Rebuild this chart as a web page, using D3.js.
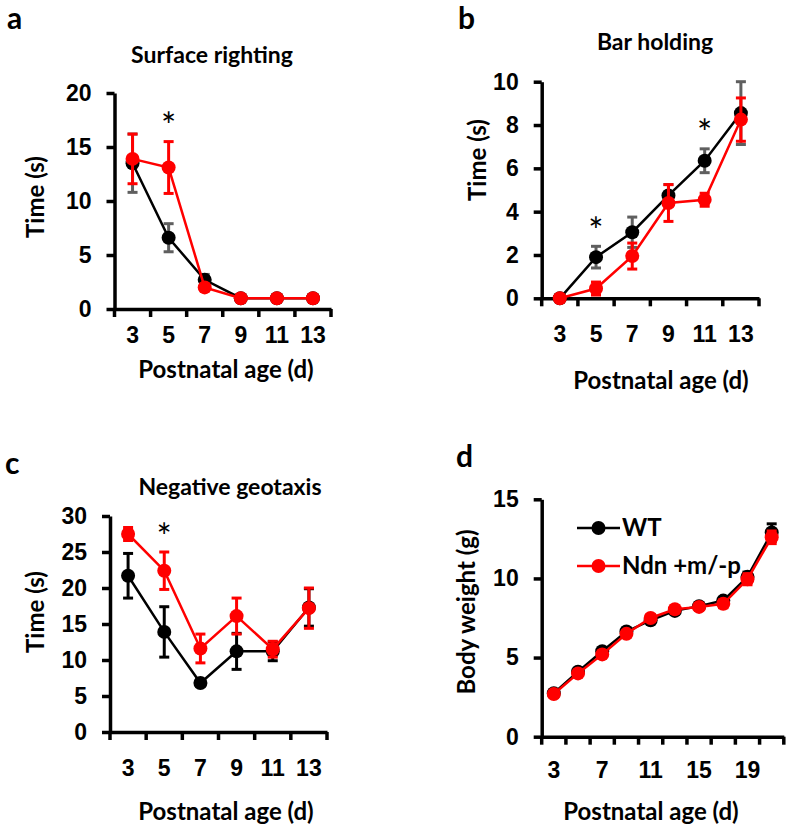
<!DOCTYPE html>
<html>
<head>
<meta charset="utf-8">
<script src="https://cdn.jsdelivr.net/npm/d3@7"></script>
<style>
  body { margin: 0; background: #fff; }
  svg { font-family: Lato, "Open Sans", sans-serif; font-weight: bold; }
</style>
</head>
<body>
<div id="vis"></div>
<script>
// Frame size
const FRAME_WIDTH = 787;
const FRAME_HEIGHT = 827;

// Data
const AGES_SHORT = [3, 5, 7, 9, 11, 13];
const AGES_LONG = [3, 5, 7, 9, 11, 13, 15, 17, 19, 21];

// a - surface righting
const SURF_WT = [13.5, 6.6, 2.7, 1.0, 1.0, 1.0];
const SURF_WT_ERR = [2.7, 1.3, 0.5, 0, 0, 0];
const SURF_NDN = [13.9, 13.1, 2.0, 1.0, 1.0, 1.0];
const SURF_NDN_ERR = [2.3, 2.4, 0.3, 0, 0, 0];
const SURF_TICKS = [0, 5, 10, 15, 20];

// b - bar holding
const BAR_WT = [0, 1.9, 3.05, 4.75, 6.35, 8.55];
const BAR_WT_ERR = [0, 0.5, 0.7, 0.5, 0.55, 1.45];
const BAR_NDN = [0, 0.45, 1.95, 4.4, 4.55, 8.25];
const BAR_NDN_ERR = [0, 0.3, 0.6, 0.85, 0.3, 1.0];
const BAR_TICKS = [0, 2, 4, 6, 8, 10];

// c - negative geotaxis
const GEO_WT = [21.7, 13.9, 6.8, 11.2, 11.2, 17.3];
const GEO_WT_ERR = [3.1, 3.5, 0.4, 2.5, 1.3, 2.6];
const GEO_NDN = [27.5, 22.4, 11.6, 16.1, 11.5, 17.2];
const GEO_NDN_ERR = [0.9, 2.6, 2.0, 2.5, 1.1, 2.8];
const GEO_TICKS = [0, 5, 10, 15, 20, 25, 30];

// d - body weight
const BW_WT = [2.75, 4.1, 5.4, 6.65, 7.35, 7.95, 8.25, 8.6, 10.1, 12.9];
const BW_WT_ERR = [0.1, 0.15, 0.15, 0.2, 0.15, 0.2, 0.2, 0.2, 0.3, 0.55];
const BW_NDN = [2.7, 4.0, 5.2, 6.5, 7.5, 8.05, 8.2, 8.4, 9.95, 12.6];
const BW_NDN_ERR = [0.1, 0.2, 0.2, 0.2, 0.2, 0.2, 0.2, 0.25, 0.35, 0.4];
const BW_TICKS = [0, 5, 10, 15];
const BW_LABELS = [3, 7, 11, 15, 19];

const LEGEND = ["WT", "Ndn +m/-p"];

const RED = "#ff0000";
const GREY = "#5f5f5f";
const TICK_FONT = "23px";
const TITLE_FONT = "23px";
const AXIS_TITLE_FONT = "24px";

const FRAME = d3.select("#vis")
  .append("svg")
    .attr("width", FRAME_WIDTH)
    .attr("height", FRAME_HEIGHT);

// Draws one panel: axes, error bars, lines, markers, labels
function panel(cfg) {
  const x = d3.scaleBand()
    .domain(cfg.ages)
    .range([cfg.left, cfg.right])
    .padding(0);
  const y = d3.scaleLinear()
    .domain([0, d3.max(cfg.yTicks)])
    .range([cfg.bottom, cfg.top]);
  const cx = (d) => x(d) + x.bandwidth() / 2;

  const G = FRAME.append("g");

  // panel letter and title
  G.append("text")
    .attr("x", cfg.letter[0]).attr("y", cfg.letter[1])
    .style("font-size", "30px")
    .text(cfg.letter[2]);
  if (cfg.title[2]) {
    G.append("text")
      .attr("x", cfg.title[0]).attr("y", cfg.title[1])
      .attr("text-anchor", "middle")
      .style("font-size", TITLE_FONT)
      .text(cfg.title[2]);
  }

  // axis titles
  G.append("text")
    .attr("x", cfg.xTitle[0]).attr("y", cfg.xTitle[1])
    .attr("text-anchor", "middle")
    .style("font-size", AXIS_TITLE_FONT)
    .text("Postnatal age (d)");
  G.append("text")
    .attr("transform", "translate(" + cfg.yTitle[0] + "," + cfg.yTitle[1] + ")rotate(-90)")
    .attr("text-anchor", "middle")
    .style("font-size", AXIS_TITLE_FONT)
    .text(cfg.yTitle[2]);

  // y axis
  const yAxis = G.append("g")
    .attr("transform", "translate(" + cfg.left + ",0)")
    .call(d3.axisLeft(y).tickValues(cfg.yTicks).tickSize(8).tickSizeOuter(0).tickPadding(15));
  yAxis.selectAll("text").style("font-size", TICK_FONT).attr("font-family", null).attr("fill", "#000");

  // x axis line with category boundary ticks
  const xAxis = G.append("g")
    .attr("transform", "translate(0," + cfg.bottom + ")")
    .call(d3.axisBottom(x).tickValues(cfg.xLabels || cfg.ages).tickSize(0).tickPadding(cfg.xPad).tickSizeOuter(0));
  xAxis.selectAll("text").style("font-size", TICK_FONT).attr("font-family", null).attr("fill", "#000");
  xAxis.selectAll(".tick").attr("transform", (d) => "translate(" + cx(d) + ",0)");
  xAxis.selectAll("line").remove();
  xAxis.selectAll("bound")
    .data(cfg.ages.concat(["end"]))
    .enter()
    .append("line")
      .attr("x1", (d) => d === "end" ? cfg.right : x(d))
      .attr("x2", (d) => d === "end" ? cfg.right : x(d))
      .attr("y1", 0).attr("y2", 8)
      .attr("stroke", "#000").attr("stroke-width", 3.5);

  [yAxis, xAxis].forEach((a) => {
    a.selectAll(".domain").attr("stroke", "#000").attr("stroke-width", 3.5);
    a.selectAll(".tick line").attr("stroke", "#000").attr("stroke-width", 3.5);
  });

  // series
  cfg.series.forEach((s) => {
    const pts = cfg.ages.map((a, i) => ({age: a, v: s.values[i], e: s.errs[i]}));
    const EB = G.append("g").attr("stroke", s.errColor).attr("stroke-width", 3);
    const withErr = pts.filter((p) => p.e > 0);
    EB.selectAll("v").data(withErr).enter().append("line")
      .attr("x1", (p) => cx(p.age)).attr("x2", (p) => cx(p.age))
      .attr("y1", (p) => y(p.v - p.e)).attr("y2", (p) => y(p.v + p.e));
    EB.selectAll("capT").data(withErr).enter().append("line")
      .attr("x1", (p) => cx(p.age) - 5).attr("x2", (p) => cx(p.age) + 5)
      .attr("y1", (p) => y(p.v + p.e)).attr("y2", (p) => y(p.v + p.e));
    EB.selectAll("capB").data(withErr).enter().append("line")
      .attr("x1", (p) => cx(p.age) - 5).attr("x2", (p) => cx(p.age) + 5)
      .attr("y1", (p) => y(p.v - p.e)).attr("y2", (p) => y(p.v - p.e));

    G.append("path")
      .datum(pts)
      .attr("fill", "none")
      .attr("stroke", s.color)
      .attr("stroke-width", 2.5)
      .attr("d", d3.line().x((p) => cx(p.age)).y((p) => y(p.v)));

    G.selectAll("dot")
      .data(pts)
      .enter()
      .append("circle")
        .attr("cx", (p) => cx(p.age))
        .attr("cy", (p) => y(p.v))
        .attr("r", 7)
        .attr("fill", s.color);
  });

  // significance stars
  (cfg.stars || []).forEach((st) => {
    G.append("text")
      .attr("x", cx(st[0]))
      .attr("y", y(st[1]) + 17)
      .attr("text-anchor", "middle")
      .style("font-size", "36px")
      .style("font-weight", "normal")
      .text("*");
  });

  return {x: x, y: y, g: G};
}

panel({
  ages: AGES_SHORT, yTicks: SURF_TICKS,
  left: 114.5, right: 331, top: 93, bottom: 309, xPad: 18,
  letter: [7, 29, "a"], title: [212, 63, "Surface righting"],
  xTitle: [226, 378], yTitle: [44, 197, "Time (s)"],
  series: [
    {values: SURF_WT, errs: SURF_WT_ERR, color: "#000", errColor: GREY},
    {values: SURF_NDN, errs: SURF_NDN_ERR, color: RED, errColor: RED}
  ],
  stars: [[5, 17.3]]
});

panel({
  ages: AGES_SHORT, yTicks: BAR_TICKS,
  left: 541.7, right: 759, top: 81.7, bottom: 298.3, xPad: 27,
  letter: [458, 29, "b"], title: [655, 50, "Bar holding"],
  xTitle: [661, 389], yTitle: [486, 160, "Time (s)"],
  series: [
    {values: BAR_WT, errs: BAR_WT_ERR, color: "#000", errColor: GREY},
    {values: BAR_NDN, errs: BAR_NDN_ERR, color: RED, errColor: RED}
  ],
  stars: [[5, 3.3], [11, 7.8]]
});

panel({
  ages: AGES_SHORT, yTicks: GEO_TICKS,
  left: 110, right: 327, top: 516, bottom: 732, xPad: 28,
  letter: [5, 474, "c"], title: [230, 495, "Negative geotaxis"],
  xTitle: [226, 820], yTitle: [44, 612, "Time (s)"],
  series: [
    {values: GEO_WT, errs: GEO_WT_ERR, color: "#000", errColor: "#000"},
    {values: GEO_NDN, errs: GEO_NDN_ERR, color: RED, errColor: RED}
  ],
  stars: [[5, 27.6]]
});

const D = panel({
  ages: AGES_LONG, xLabels: BW_LABELS, yTicks: BW_TICKS,
  left: 541.7, right: 783.8, top: 499.3, bottom: 736.7, xPad: 25,
  letter: [456, 467, "d"], title: [0, 0, ""],
  xTitle: [651, 820], yTitle: [475, 612, "Body weight (g)"],
  series: [
    {values: BW_WT, errs: BW_WT_ERR, color: "#000", errColor: "#000"},
    {values: BW_NDN, errs: BW_NDN_ERR, color: RED, errColor: RED}
  ]
});

// legend for panel d
const LEG = D.g.append("g").attr("transform", "translate(577,528)");
LEGEND.forEach((name, i) => {
  const col = i === 0 ? "#000" : RED;
  const row = LEG.append("g").attr("transform", "translate(0," + (i * 38) + ")");
  row.append("line").attr("x1", 0).attr("x2", 43).attr("y1", 0).attr("y2", 0)
    .attr("stroke", col).attr("stroke-width", 2.5);
  row.append("circle").attr("cx", 21.5).attr("cy", 0).attr("r", 7).attr("fill", col);
  row.append("text").attr("x", 45).attr("y", 8).style("font-size", "24px").text(name);
});
</script>
</body>
</html>
